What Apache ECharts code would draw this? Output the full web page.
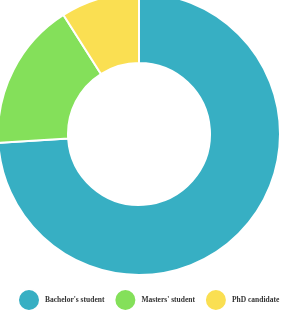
<!DOCTYPE html>
<html><head><meta charset="utf-8">
<script src="https://cdn.jsdelivr.net/npm/echarts@6/dist/echarts.min.js"></script>
<style>html,body{margin:0;padding:0;background:#fff}#c{width:282px;height:317px}</style>
</head><body><div id="c"></div>
<script>
const categories = ["Bachelor's student", "Masters' student", "PhD candidate"];
const values = [74, 17, 9];
const colors = ['#37afc3', '#84e05a', '#fadf52'];
const chart = echarts.init(document.getElementById('c'));
chart.setOption({
  animation: false,
  color: colors,
  legend: {
    top: 288, left: 17, width: 282, padding: 0,
    icon: 'circle', itemWidth: 22, itemHeight: 22, itemGap: 9,
    textStyle: {fontFamily: 'Liberation Serif', fontWeight: 'bold', fontSize: 7.5, color: '#333', padding: [0,0,0,0]},
    data: categories
  },
  series: [{
    type: 'pie',
    center: [139, 134],
    radius: [71, 141],
    startAngle: 90,
    clockwise: true,
    label: {show: false},
    labelLine: {show: false},
    itemStyle: {borderColor: '#fff', borderWidth: 2},
    data: categories.map((c, i) => ({name: c, value: values[i]}))
  }]
});
</script></body></html>
